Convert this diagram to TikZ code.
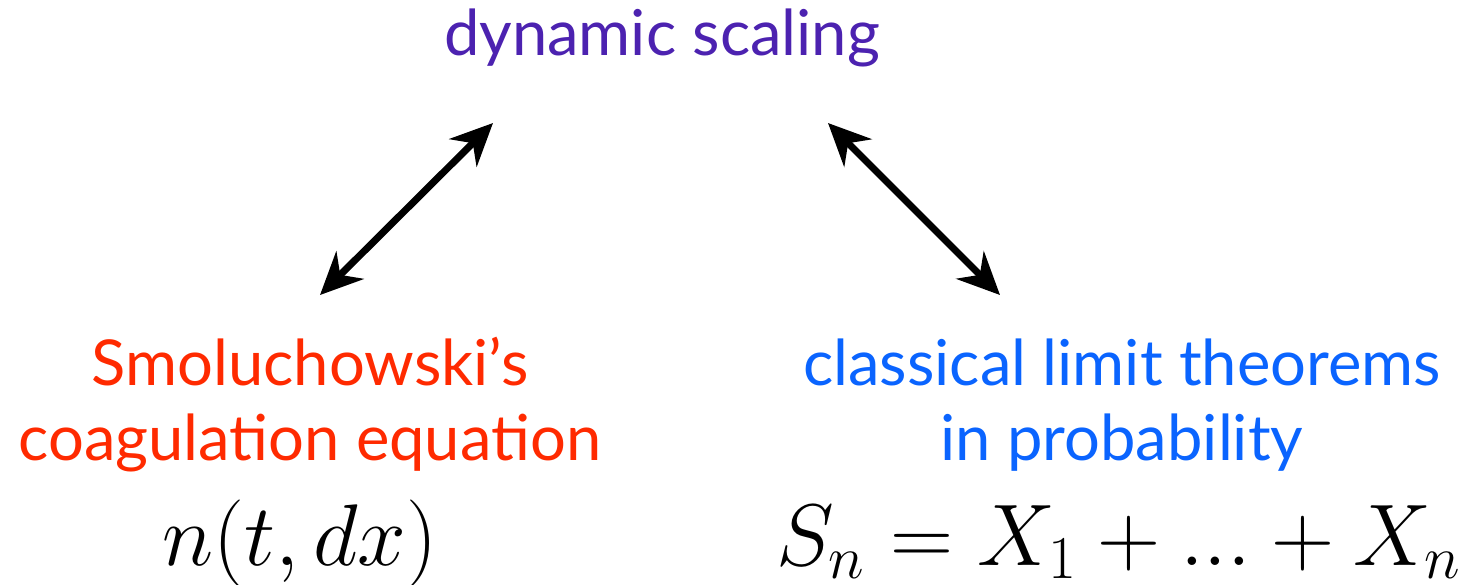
\documentclass[tikz,border=0pt]{standalone}
\usepackage{amsmath}
\usepackage{fontspec}
\setmainfont{Lato}
\usetikzlibrary{arrows.meta,positioning}
\definecolor{dynpurple}{RGB}{76,34,176}
\definecolor{smolred}{RGB}{255,42,0}
\definecolor{probblue}{RGB}{10,100,255}

\begin{document}
\begin{tikzpicture}[
  x=0.01cm, y=-0.01cm,
  >={Stealth[length=12pt,width=11pt]},
  txt/.style={font=\fontsize{18}{21.3}\selectfont, align=center, inner sep=0pt},
  eq/.style={font=\fontsize{23.5}{26}\selectfont, inner sep=0pt},
  arr/.style={<->, line width=2pt},
]
  \useasboundingbox (0,0) rectangle (1460,584);
  \node[txt, text=dynpurple, anchor=base] (dyn) at (662,55) {dynamic scaling};
  \node[txt, text=smolred, anchor=base] (smol) at (310,460) {Smoluchowski's\\coagulation equation};
  \node[txt, text=probblue, anchor=base] (clt) at (1122,460) {classical limit theorems\\in probability};
  \node[eq, anchor=base] (neq) at (300,565) {$n(t,dx)$};
  \node[eq, anchor=base] (seq) at (1119,565) {$S_n=X_1+...+X_n$};
  % arrow ends
  \coordinate (la) at (320,295);
  \coordinate (lb) at (493,123);
  \coordinate (ra) at (828,123);
  \coordinate (rb) at (1000,295);
  \draw[arr] (la) -- (lb);
  \draw[arr] (ra) -- (rb);
\end{tikzpicture}
\end{document}
